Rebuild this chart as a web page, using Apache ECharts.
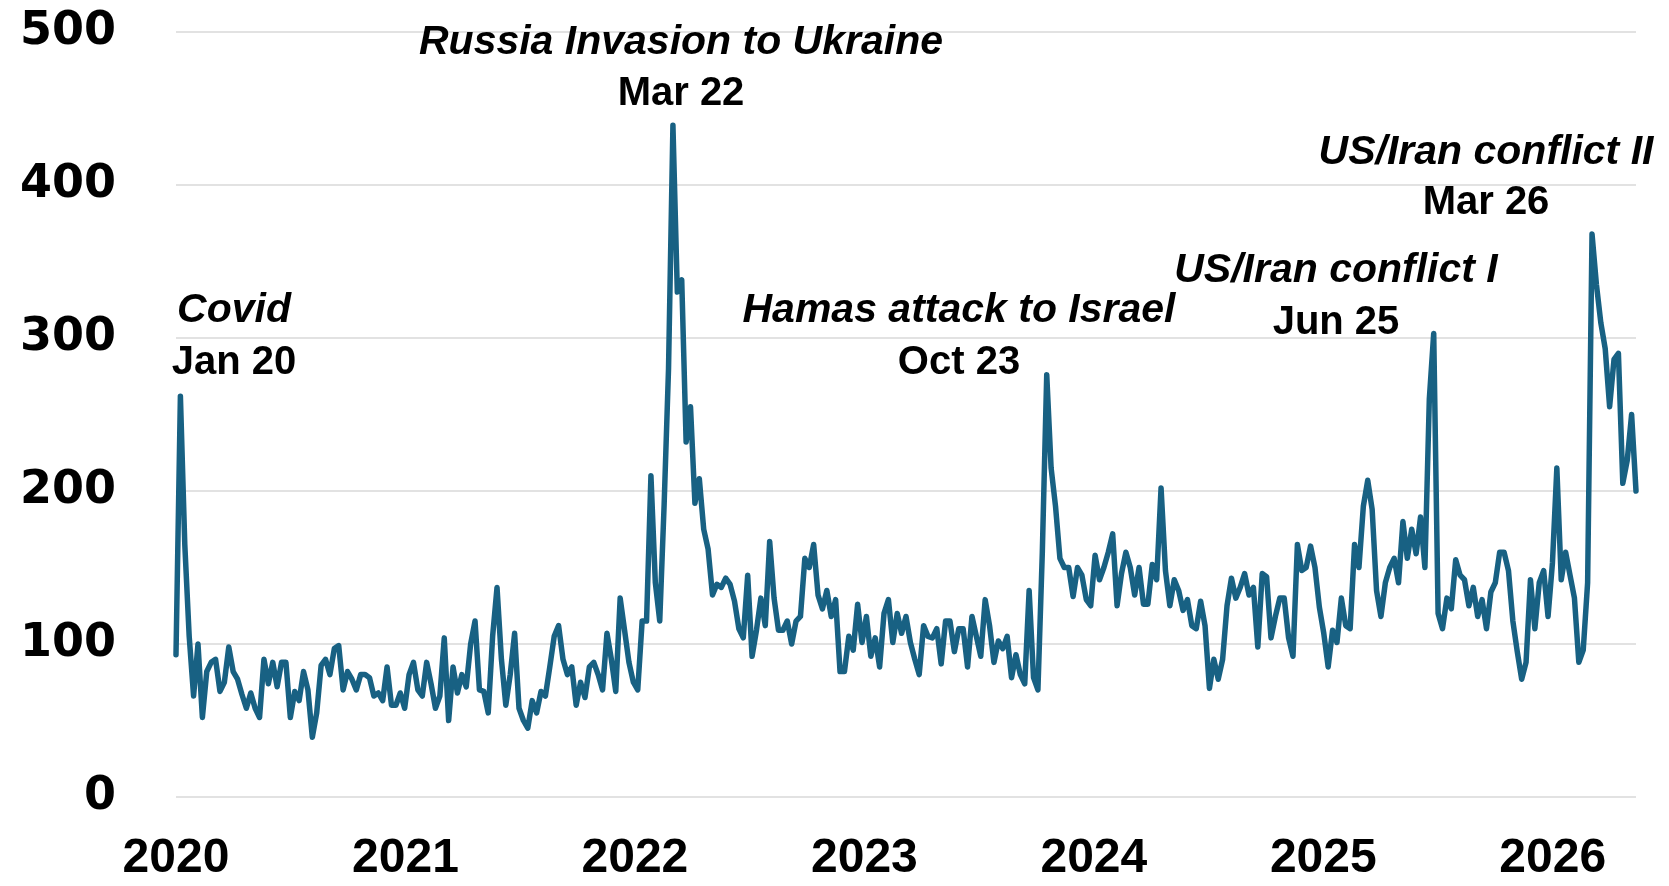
<!DOCTYPE html>
<html>
<head>
<meta charset="utf-8">
<script src="https://cdn.jsdelivr.net/npm/echarts@6/dist/echarts.min.js"></script>
<style>
html,body{margin:0;padding:0;background:#fff;}
#chart{width:1669px;height:886px;}
</style>
</head>
<body>
<div id="chart"></div>
<script>
// Weekly readings, starting 2020-01-01, one value every 7 days
const startYear = 2020;
const stepDays = 7;
const values2020 = [93,262,165,105,66,100,52,82,88,90,69,75,98,82,77,67,58,68,58,52,90,74,88,72,88,88,52,69,63,82,70,39,55,86,90,80,97,99,70,82,77,70,80,80,78,66,68,63,85,60,60,68,58];
const values2021 = [80,88,70,66,88,74,58,66,104,50,85,68,80,72,100,115,70,69,55,105,137,90,60,80,107,58,50,45,63,55,69,66,85,105,112,90,80,85,60,75,65,85,88,80,70,107,90,69,130,109,88,75];
const values2022 = [70,115,115,210,140,115,191,280,439,330,338,232,255,192,208,175,162,132,139,137,143,139,128,110,104,145,92,109,130,112,167,130,109,109,115,100,115,118,156,150,165,132,123,135,118,129,82,82,105,96,126,101];
const values2023 = [118,92,104,85,120,129,101,120,107,118,101,90,80,112,105,104,110,87,115,115,95,110,110,85,118,105,92,129,112,88,102,97,105,78,93,80,74,135,78,70,160,276,215,190,156,150,150,131,150,145,129,125];
const values2024 = [158,142,150,160,172,125,146,160,150,132,150,126,126,152,142,202,148,125,142,135,122,129,112,110,128,112,71,90,77,90,125,143,130,137,146,132,137,98,146,144,104,118,130,130,104,92,165,148,150,164,150,124];
const values2025 = [107,85,109,101,130,112,110,165,150,190,207,188,135,118,140,150,156,140,180,156,175,159,183,150,260,303,120,110,130,123,155,145,142,125,137,118,129,110,134,140,160,160,148,115,95,77,88,142,110,140,148,118,153];
const values2026 = [215,142,160,145,130,88,96,140,368,335,310,293,255,286,290,205,220,250,200];

const yTicks = [0,100,200,300,400,500];
const yearLabels = ['2020','2021','2022','2023','2024','2025','2026'];

const events = [
  {name:'Covid', date:'Jan 20'},
  {name:'Russia Invasion to Ukraine', date:'Mar 22'},
  {name:'Hamas attack to Israel', date:'Oct 23'},
  {name:'US/Iran conflict I', date:'Jun 25'},
  {name:'US/Iran conflict II', date:'Mar 26'}
];
// label placement (pixels) for the annotations
const eventPos = [[234,311,363],[681,43,94],[959,311,363],[1336,271,323],[1486,153,203]];

const allValues = [].concat(values2020, values2021, values2022, values2023, values2024, values2025, values2026);
const seriesData = allValues.map((v,i)=>[startYear + i*stepDays/365.25, v]);
const xMax = startYear + (allValues.length-1)*stepDays/365.25;

const graphics = [];
events.forEach((e,k)=>{
  const p = eventPos[k];
  graphics.push({type:'text', x:p[0], y:p[1], z:10, style:{text:e.name, fill:'#000', align:'center', verticalAlign:'middle', font:'italic bold 41px "Liberation Sans", Arial, sans-serif'}});
  graphics.push({type:'text', x:p[0], y:p[2], z:10, style:{text:e.date, fill:'#000', align:'center', verticalAlign:'middle', font:'bold 40px "Liberation Sans", Arial, sans-serif'}});
});

const chart = echarts.init(document.getElementById('chart'), null, {renderer:'canvas'});
chart.setOption({
  animation:false,
  backgroundColor:'#fff',
  grid:{left:176, right:33, top:32, bottom:89, containLabel:false},
  xAxis:{
    type:'value', min:startYear, max:xMax, interval:1,
    axisLine:{show:false}, axisTick:{show:false}, splitLine:{show:false},
    axisLabel:{
      showMaxLabel:false, margin:38,
      formatter:(v)=>{const idx = Math.round(v-startYear); return (Math.abs(v-Math.round(v))<1e-6 && yearLabels[idx]) ? yearLabels[idx] : '';},
      fontFamily:'"Liberation Sans", Arial, sans-serif', fontWeight:'bold', fontSize:48, color:'#000'
    }
  },
  yAxis:{
    type:'value', min:yTicks[0], max:yTicks[yTicks.length-1], interval:100,
    axisLine:{show:false}, axisTick:{show:false},
    splitLine:{show:true, lineStyle:{color:'#d9d9d9', width:1.5}},
    axisLabel:{margin:60, fontFamily:'"DejaVu Sans", sans-serif', fontWeight:'bold', fontSize:46, color:'#000'}
  },
  graphic:graphics,
  series:[{
    type:'line', data:seriesData, showSymbol:false, symbol:'none',
    lineStyle:{color:'#186183', width:5.5, join:'round', cap:'round'},
    itemStyle:{color:'#186183'}
  }]
});
</script>
</body>
</html>
